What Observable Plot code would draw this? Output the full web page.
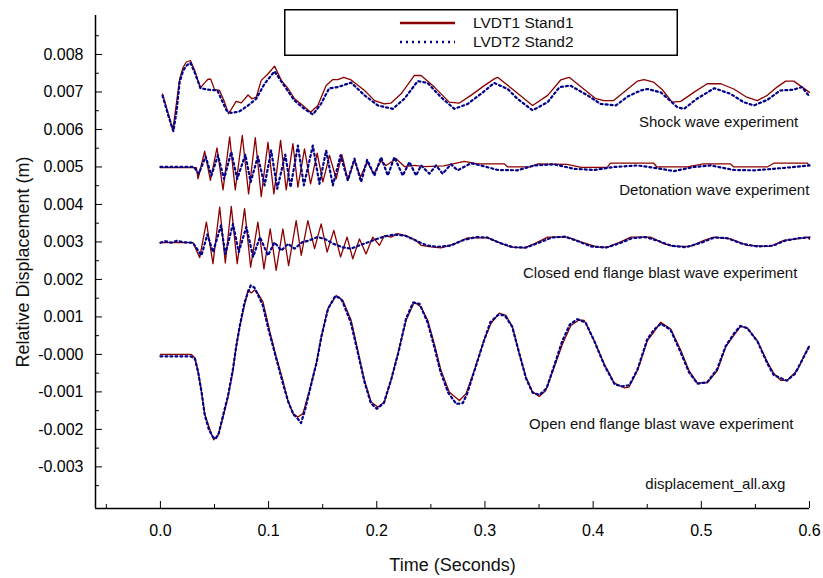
<!DOCTYPE html>
<html><head><meta charset="utf-8">
<script src="https://cdn.jsdelivr.net/npm/d3@7"></script>
<script src="https://cdn.jsdelivr.net/npm/@observablehq/plot@0.6"></script>
<style>
body{margin:0;background:#fff;font-family:"Liberation Sans",Arial,sans-serif;}
#wrap{position:relative;width:823px;height:578px;}
#legend{position:absolute;left:284px;top:9px;}
</style></head><body><div id="wrap"><div id="legend"></div></div>
<script>
// ---- data: [time (s), displacement (1e-3 m)] ----
const seriesNames = ["LVDT1 Stand1", "LVDT2 Stand2"];
const experimentNames = ["Shock wave experiment", "Detonation wave experiment", "Closed end flange blast wave experiment", "Open end flange blast wave experiment"];
const fileName = "displacement_all.axg";

const shockLVDT1 = [[0.002,6.95],[0.007,6.45],[0.0115,5.98],[0.0148,6.7],[0.0178,7.35],[0.021,7.66],[0.024,7.80],[0.0277,7.84],[0.032,7.55],[0.037,7.11],[0.041,7.25],[0.044,7.34],[0.0465,7.34],[0.050,7.07],[0.0547,7.04],[0.059,6.75],[0.063,6.42],[0.070,6.75],[0.0748,6.71],[0.081,6.92],[0.0846,6.82],[0.0886,6.86],[0.0932,7.31],[0.0994,7.48],[0.1055,7.69],[0.1117,7.31],[0.1178,7.10],[0.124,6.82],[0.1317,6.64],[0.1388,6.46],[0.1455,6.64],[0.1532,7.17],[0.1594,7.33],[0.164,7.33],[0.1695,7.39],[0.1763,7.32],[0.1887,7.04],[0.198,6.77],[0.207,6.68],[0.213,6.70],[0.2225,6.95],[0.2348,7.44],[0.241,7.44],[0.2532,7.13],[0.267,6.73],[0.276,6.70],[0.287,6.91],[0.2994,7.17],[0.3086,7.35],[0.3117,7.39],[0.327,7.04],[0.344,6.64],[0.358,6.91],[0.370,7.32],[0.3778,7.39],[0.389,7.13],[0.4025,6.82],[0.410,6.77],[0.419,6.77],[0.432,7.08],[0.441,7.29],[0.447,7.33],[0.456,7.26],[0.464,7.06],[0.473,6.73],[0.481,6.75],[0.493,6.99],[0.5055,7.22],[0.518,7.22],[0.530,7.08],[0.542,6.86],[0.5517,6.77],[0.561,6.91],[0.570,7.13],[0.578,7.29],[0.5855,7.29],[0.600,6.99]];
const shockLVDT2 = [[0.002,6.9],[0.007,6.4],[0.012,5.95],[0.015,6.5],[0.0178,7.26],[0.021,7.57],[0.024,7.70],[0.0277,7.78],[0.032,7.5],[0.037,7.10],[0.045,7.06],[0.0527,7.04],[0.061,6.51],[0.0655,6.44],[0.073,6.48],[0.081,6.64],[0.0886,6.82],[0.0963,7.22],[0.1055,7.55],[0.1132,7.22],[0.124,6.77],[0.133,6.55],[0.141,6.40],[0.1486,6.69],[0.156,7.10],[0.164,7.13],[0.1763,7.25],[0.1887,6.91],[0.201,6.64],[0.2148,6.55],[0.2255,6.82],[0.2379,7.29],[0.247,7.24],[0.2594,6.86],[0.2717,6.55],[0.284,6.68],[0.2963,6.95],[0.3086,7.24],[0.321,7.08],[0.330,6.82],[0.344,6.51],[0.358,6.73],[0.369,7.13],[0.379,7.17],[0.3948,6.91],[0.407,6.68],[0.421,6.64],[0.432,6.88],[0.444,7.04],[0.450,7.08],[0.4625,6.99],[0.478,6.59],[0.484,6.55],[0.496,6.82],[0.512,7.10],[0.527,6.95],[0.539,6.73],[0.5486,6.64],[0.561,6.79],[0.573,7.04],[0.585,7.06],[0.593,7.13],[0.600,6.88]];

const detonationLVDT1 = [[0,4.98],[0.0332,4.98],[0.0348,4.68],[0.0409,5.42],[0.0462,4.64],[0.0523,5.51],[0.0579,4.39],[0.064,5.80],[0.0692,4.39],[0.0757,5.84],[0.0815,4.28],[0.0877,5.78],[0.0932,4.21],[0.0994,5.66],[0.1049,4.28],[0.1111,5.71],[0.1163,4.39],[0.1225,5.62],[0.1271,4.46],[0.1332,5.48],[0.1388,4.55],[0.1449,5.37],[0.1502,4.60],[0.1563,5.31],[0.1625,4.68],[0.1677,5.33],[0.1733,4.66],[0.1794,5.17],[0.1849,4.73],[0.1911,5.13],[0.1972,4.82],[0.204,5.16],[0.2086,5.04],[0.2179,5.22],[0.2255,5.01],[0.2348,5.04],[0.244,5.01],[0.262,5.03],[0.281,5.15],[0.293,5.08],[0.318,5.08],[0.321,5.0],[0.342,5.0],[0.349,5.08],[0.376,5.07],[0.389,4.99],[0.413,4.99],[0.416,5.10],[0.456,5.10],[0.459,5.0],[0.487,5.0],[0.502,5.08],[0.527,5.08],[0.530,5.0],[0.561,5.0],[0.567,5.10],[0.598,5.10],[0.6,5.04]];
const detonationLVDT2 = [[0,5.0],[0.031,5.0],[0.0355,4.82],[0.0418,5.28],[0.0471,4.77],[0.0532,5.31],[0.0588,4.68],[0.0655,5.40],[0.071,4.68],[0.0785,5.33],[0.0834,4.60],[0.0901,5.28],[0.0963,4.51],[0.1024,5.44],[0.108,4.42],[0.1154,5.33],[0.1203,4.46],[0.1271,5.57],[0.1326,4.51],[0.1409,5.57],[0.147,4.55],[0.1532,5.44],[0.1594,4.51],[0.1665,5.31],[0.1732,4.64],[0.1794,5.22],[0.1855,4.60],[0.1911,5.19],[0.1978,4.77],[0.204,5.26],[0.2102,4.77],[0.2163,5.26],[0.224,4.77],[0.2302,5.13],[0.2363,4.77],[0.241,5.04],[0.2486,4.82],[0.2548,5.04],[0.2609,4.82],[0.2686,5.07],[0.2748,4.91],[0.287,5.10],[0.2963,5.04],[0.3117,4.92],[0.330,4.91],[0.3455,5.04],[0.364,5.07],[0.3825,4.95],[0.401,4.92],[0.4194,5.00],[0.441,5.04],[0.456,4.98],[0.4748,4.89],[0.4932,5.0],[0.5086,5.04],[0.530,4.92],[0.5486,4.91],[0.567,4.95],[0.5855,5.0],[0.6,5.04]];

const closedLVDT1 = [[0,2.98],[0.0302,2.98],[0.0363,2.58],[0.0425,3.53],[0.0486,2.42],[0.0548,3.93],[0.0600,2.44],[0.0655,3.95],[0.071,2.42],[0.0778,3.89],[0.0834,2.33],[0.0901,3.53],[0.0957,2.28],[0.1015,3.35],[0.107,2.24],[0.1132,3.35],[0.1185,2.37],[0.1255,3.57],[0.1302,2.64],[0.1363,3.57],[0.1425,2.82],[0.1486,3.48],[0.1541,2.73],[0.1603,3.31],[0.1665,2.60],[0.1726,3.13],[0.1778,2.55],[0.184,3.08],[0.1901,2.68],[0.1963,3.13],[0.2025,2.91],[0.2071,3.17],[0.2132,3.13],[0.2194,3.22],[0.2286,3.15],[0.2363,3.04],[0.241,2.91],[0.2501,2.87],[0.2594,2.84],[0.2717,2.95],[0.284,3.11],[0.3025,3.11],[0.3117,3.0],[0.324,2.86],[0.3363,2.84],[0.3455,2.95],[0.358,3.13],[0.3763,3.13],[0.3886,3.0],[0.404,2.86],[0.4133,2.86],[0.4255,3.0],[0.4348,3.13],[0.4532,3.13],[0.4655,2.95],[0.4748,2.88],[0.490,2.88],[0.5025,3.04],[0.5117,3.13],[0.527,3.08],[0.5425,2.91],[0.564,2.88],[0.5763,3.04],[0.5886,3.08],[0.598,3.13],[0.6,3.07]];
const closedLVDT2 = [[0,2.98],[0.005,3.02],[0.010,2.98],[0.015,3.03],[0.022,2.99],[0.030,2.98],[0.0379,2.64],[0.0434,3.2],[0.0486,2.73],[0.056,3.44],[0.060,2.68],[0.0671,3.48],[0.0724,2.73],[0.0794,3.40],[0.0857,2.60],[0.092,3.13],[0.0994,2.64],[0.1055,2.99],[0.1117,2.77],[0.118,2.95],[0.124,2.82],[0.131,2.99],[0.1375,3.04],[0.145,3.13],[0.152,3.08],[0.160,2.95],[0.168,2.86],[0.176,2.82],[0.184,2.91],[0.192,2.99],[0.200,3.08],[0.208,3.15],[0.216,3.2],[0.226,3.17],[0.236,3.04],[0.246,2.91],[0.256,2.87],[0.268,2.90],[0.280,3.05],[0.292,3.13],[0.302,3.12],[0.314,2.97],[0.326,2.86],[0.338,2.85],[0.350,2.98],[0.362,3.12],[0.374,3.14],[0.386,3.02],[0.398,2.88],[0.412,2.85],[0.424,2.96],[0.436,3.10],[0.448,3.13],[0.460,3.03],[0.472,2.90],[0.486,2.86],[0.500,2.98],[0.512,3.12],[0.524,3.10],[0.538,2.95],[0.552,2.88],[0.566,2.90],[0.578,3.04],[0.590,3.10],[0.600,3.12]];

const openLVDT1 = [[0,0],[0.0286,0],[0.0317,-0.09],[0.0348,-0.43],[0.0378,-0.96],[0.0409,-1.58],[0.0455,-1.98],[0.0492,-2.28],[0.0532,-2.17],[0.0579,-1.67],[0.0625,-1.14],[0.0671,-0.43],[0.0702,0.24],[0.0732,0.73],[0.0773,1.26],[0.081,1.72],[0.084,1.64],[0.087,1.72],[0.0902,1.62],[0.0948,1.40],[0.1009,0.64],[0.1071,-0.07],[0.1132,-0.69],[0.1178,-1.23],[0.1225,-1.58],[0.1271,-1.67],[0.1317,-1.58],[0.1378,-0.96],[0.144,-0.25],[0.1486,0.46],[0.1548,1.22],[0.1625,1.57],[0.1686,1.44],[0.1763,0.91],[0.1825,0.11],[0.1886,-0.69],[0.1948,-1.27],[0.201,-1.40],[0.207,-1.27],[0.2132,-0.69],[0.2194,0.02],[0.2271,0.91],[0.2348,1.40],[0.241,1.26],[0.2471,0.91],[0.2532,0.28],[0.2594,-0.43],[0.267,-1.0],[0.2763,-1.23],[0.2825,-1.05],[0.2901,-0.43],[0.2994,0.40],[0.3055,0.82],[0.3132,1.10],[0.3194,1.04],[0.3256,0.73],[0.3317,0.02],[0.3379,-0.60],[0.344,-1.0],[0.3502,-1.12],[0.3563,-0.96],[0.364,-0.34],[0.3717,0.28],[0.3794,0.77],[0.387,0.92],[0.3917,0.91],[0.401,0.37],[0.4102,-0.25],[0.4194,-0.76],[0.4286,-0.89],[0.4332,-0.87],[0.441,-0.43],[0.4502,0.37],[0.4563,0.60],[0.4625,0.86],[0.4717,0.68],[0.481,0.11],[0.4886,-0.43],[0.4963,-0.76],[0.5055,-0.76],[0.5148,-0.43],[0.5225,0.20],[0.5301,0.51],[0.5363,0.75],[0.5425,0.71],[0.5517,0.37],[0.561,-0.20],[0.5671,-0.51],[0.5732,-0.69],[0.5794,-0.69],[0.5886,-0.43],[0.5994,0.22]];
const openLVDT2 = [[0,-0.05],[0.028,-0.05],[0.032,-0.12],[0.035,-0.5],[0.038,-1.0],[0.041,-1.62],[0.045,-2.02],[0.0485,-2.2],[0.051,-2.25],[0.054,-2.1],[0.058,-1.62],[0.0625,-1.1],[0.067,-0.4],[0.070,0.2],[0.0735,0.78],[0.0775,1.35],[0.0805,1.62],[0.0835,1.84],[0.087,1.78],[0.090,1.6],[0.0945,1.32],[0.1005,0.6],[0.107,-0.1],[0.113,-0.75],[0.118,-1.25],[0.123,-1.6],[0.1265,-1.7],[0.130,-1.83],[0.1335,-1.5],[0.1385,-0.9],[0.1445,-0.2],[0.149,0.5],[0.155,1.22],[0.1615,1.55],[0.1665,1.5],[0.1685,1.4],[0.176,0.85],[0.1825,0.05],[0.1885,-0.72],[0.1945,-1.3],[0.200,-1.45],[0.2065,-1.3],[0.2135,-0.65],[0.220,0.05],[0.227,0.95],[0.2335,1.38],[0.2395,1.35],[0.247,0.85],[0.253,0.22],[0.259,-0.47],[0.266,-1.02],[0.2735,-1.32],[0.2795,-1.3],[0.2835,-1.05],[0.290,-0.46],[0.299,0.36],[0.305,0.86],[0.312,1.05],[0.318,1.05],[0.325,0.75],[0.332,0.0],[0.338,-0.64],[0.344,-1.02],[0.3505,-1.08],[0.357,-0.9],[0.364,-0.3],[0.3715,0.36],[0.3785,0.8],[0.3855,0.94],[0.393,0.85],[0.401,0.36],[0.4105,-0.3],[0.420,-0.8],[0.4265,-0.85],[0.4335,-0.82],[0.441,-0.4],[0.450,0.4],[0.456,0.65],[0.4625,0.82],[0.4715,0.66],[0.4805,0.08],[0.4885,-0.47],[0.4965,-0.78],[0.5055,-0.74],[0.5145,-0.4],[0.5225,0.22],[0.530,0.55],[0.536,0.76],[0.5425,0.7],[0.552,0.34],[0.561,-0.24],[0.567,-0.55],[0.5725,-0.62],[0.579,-0.7],[0.5865,-0.52],[0.5995,0.2]];

// ---- ticks ----
const xTicks = [0, 0.1, 0.2, 0.3, 0.4, 0.5, 0.6];
const xTickLabels = ["0.0", "0.1", "0.2", "0.3", "0.4", "0.5", "0.6"];
const xMinorTicks = [-0.05, 0.05, 0.15, 0.25, 0.35, 0.45, 0.55];
const yTicks = [-0.003, -0.002, -0.001, 0, 0.001, 0.002, 0.003, 0.004, 0.005, 0.006, 0.007, 0.008];
const yTickLabels = ["-0.003", "-0.002", "-0.001", "-0.000", "0.001", "0.002", "0.003", "0.004", "0.005", "0.006", "0.007", "0.008"];
const yMinorTicks = [-0.0035, -0.0025, -0.0015, -0.0005, 0.0005, 0.0015, 0.0025, 0.0035, 0.0045, 0.0055, 0.0065, 0.0075, 0.0085];

// ---- build tables ----
const experiments = [
  [experimentNames[0], shockLVDT1, shockLVDT2],
  [experimentNames[1], detonationLVDT1, detonationLVDT2],
  [experimentNames[2], closedLVDT1, closedLVDT2],
  [experimentNames[3], openLVDT1, openLVDT2]
];
const rows1 = [], rows2 = [];
for (const [exp, s1, s2] of experiments) {
  for (const [t, v] of s1) rows1.push({t, d: v / 1000, exp});
  for (const [t, v] of s2) rows2.push({t, d: v / 1000, exp});
}
const annotations = [
  {text: experimentNames[0], t: 0.516, d: 0.00619},
  {text: experimentNames[1], t: 0.512, d: 0.00437},
  {text: experimentNames[2], t: 0.462, d: 0.00216},
  {text: experimentNames[3], t: 0.463, d: -0.00187},
  {text: fileName, t: 0.513, d: -0.00347}
];

const RED = "#8b0000", BLUE = "#00008b";
const xDomain = [-0.06, 0.6], yDomain = [-0.00411, 0.00904];

const chart = Plot.plot({
  width: 823, height: 578,
  marginLeft: 95, marginRight: 14, marginTop: 15, marginBottom: 70,
  x: {domain: xDomain},
  y: {domain: yDomain},
  style: {fontFamily: "'Liberation Sans', Arial, sans-serif", fontSize: "16px", color: "#000", background: "#fff"},
  marks: [
    Plot.ruleX([xDomain[0]], {stroke: "#000", strokeWidth: 1.5}),
    Plot.ruleY([yDomain[0]], {stroke: "#000", strokeWidth: 1.5}),
    Plot.axisY(yTicks, {anchor: "left", tickSize: -7, tickPadding: 19, tickFormat: d => yTickLabels[yTicks.indexOf(d)],
      label: null, fontSize: 16}),
    Plot.axisY(yMinorTicks, {anchor: "left", tickSize: -4, tickFormat: () => "", label: null}),
    Plot.axisX(xTicks, {anchor: "bottom", tickSize: -7, tickPadding: 23, tickFormat: d => xTickLabels[xTicks.indexOf(d)],
      label: null, fontSize: 16}),
    Plot.axisX(xMinorTicks, {anchor: "bottom", tickSize: -4, tickFormat: () => "", label: null}),
    Plot.text(["Relative Displacement (m)"], {frameAnchor: "left", dx: -72, rotate: -90, fontSize: 18, textAnchor: "middle", lineAnchor: "middle", fill: "#111"}),
    Plot.text(["Time (Seconds)"], {frameAnchor: "bottom", dy: 57, fontSize: 18, textAnchor: "middle", lineAnchor: "middle", fill: "#111"}),
    Plot.line(rows1, {x: "t", y: "d", z: "exp", stroke: RED, strokeWidth: 1.3}),
    Plot.line(rows2, {x: "t", y: "d", z: "exp", stroke: BLUE, strokeWidth: 2.2, strokeDasharray: "2,3"}),
    Plot.text(annotations, {x: "t", y: "d", text: "text", fontSize: 15, fill: "#111", textAnchor: "middle"})
  ]
});
document.getElementById("wrap").prepend(chart);

// ---- legend ----
const lg = d3.select("#legend").append("svg").attr("width", 394).attr("height", 47);
lg.append("rect").attr("x", 0.75).attr("y", 0.75).attr("width", 392.5).attr("height", 45.5)
  .attr("fill", "#fff").attr("stroke", "#000").attr("stroke-width", 1.5);
const styles = [{stroke: RED, w: 2.5, dash: null}, {stroke: BLUE, w: 2.5, dash: "2,4"}];
seriesNames.forEach((name, i) => {
  const y = 14 + i * 19;
  lg.append("line").attr("x1", 116).attr("x2", 171).attr("y1", y).attr("y2", y)
    .attr("stroke", styles[i].stroke).attr("stroke-width", styles[i].w)
    .attr("stroke-dasharray", styles[i].dash);
  lg.append("text").attr("x", 189).attr("y", y).attr("dy", "0.35em")
    .attr("font-size", 15.5).attr("font-family", "'Liberation Sans', Arial, sans-serif")
    .attr("fill", "#111").text(name);
});
</script>
</body></html>
